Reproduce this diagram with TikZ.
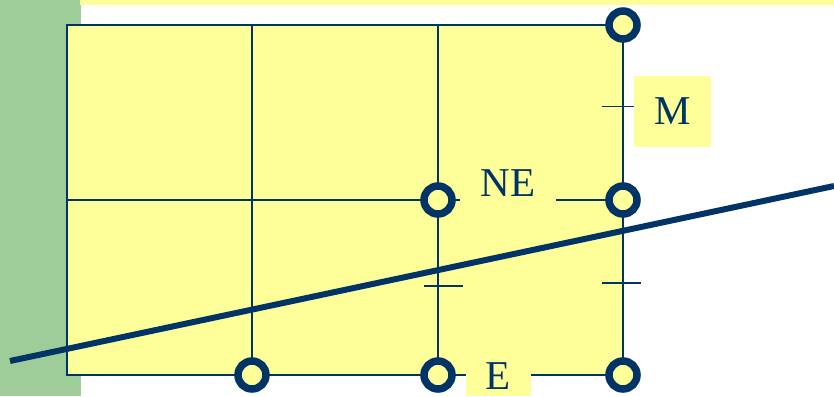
\documentclass[tikz,border=0pt]{standalone}
\usepackage{fontspec}
\setmainfont{Liberation Serif}
\definecolor{navy}{HTML}{003366}
\definecolor{pyellow}{HTML}{FFFF99}
\definecolor{pgreen}{HTML}{9ECD9A}
\tikzset{
  thin line/.style={draw=navy, line width=1.7pt},
  ring/.style={circle, draw=navy, line width=7.5pt, fill=pyellow, minimum size=28pt, inner sep=0pt},
  tick/.style={draw=navy, line width=1.7pt},
  lbl/.style={fill=pyellow, text=navy, inner sep=0pt, font=\fontsize{41}{48}\selectfont},
  cut/.style={draw=navy, line width=6pt},
}
\begin{document}
\begin{tikzpicture}[x=1pt,y=-1pt]
\useasboundingbox (0,0) rectangle (834,396);
% background strips
\fill[pgreen] (0,0) rectangle (81,396);
\fill[pyellow] (80,0) rectangle (834,5.5);
% grid coordinates
\coordinate (tl) at (67,25);
\coordinate (t1) at (252,25);
\coordinate (t2) at (438,25);
\coordinate (tr) at (623,25);
\coordinate (ml) at (67,200);
\coordinate (bl) at (67,375);
\coordinate (br) at (623,375);
% rectangle
\fill[pyellow] (tl) rectangle (br);
\draw[thin line] (tl) -- (tr) -- (br) -- (bl) -- cycle;
\draw[thin line] (t1) -- (252,375);
\draw[thin line] (t2) -- (438,375);
\draw[thin line] (ml) -- (623,200);
% ticks
\coordinate (k1a) at (601.5,106.5); \coordinate (k1b) at (641,106.5);
\coordinate (k2a) at (424,286);     \coordinate (k2b) at (462.5,286);
\coordinate (k3a) at (602,283.3);   \coordinate (k3b) at (641,283.3);
\draw[tick] (k1a) -- (k1b);
\draw[tick] (k2a) -- (k2b);
\draw[tick] (k3a) -- (k3b);
% cutting line
\coordinate (la) at (10,361);
\coordinate (lb) at (834,186);
\draw[cut] (la) -- (lb);
% labels
\node[lbl, minimum width=77pt, minimum height=71pt] (M) at (672.5,111) {M};
\node[lbl, minimum width=96pt, minimum height=50pt] (NE) at (508,183) {NE};
\node[lbl, minimum width=65pt, minimum height=40pt] (E) at (498.5,376) {E};
% rings
\node[ring] (c1) at (623,25) {};
\node[ring] (c2) at (438,200) {};
\node[ring] (c3) at (623,200) {};
\node[ring] (c4) at (252,375) {};
\node[ring] (c5) at (438,375) {};
\node[ring] (c6) at (623,375) {};
\end{tikzpicture}
\end{document}
